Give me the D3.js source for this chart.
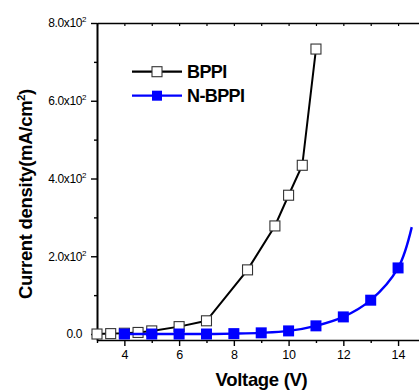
<!DOCTYPE html>
<html>
<head>
<meta charset="utf-8">
<script src="https://cdn.jsdelivr.net/npm/d3@7"></script>
<style>
  body { margin: 0; background: #fff; }
  svg { display: block; font-family: "Liberation Sans", Arial, sans-serif; }
</style>
</head>
<body>
<div class="chart"></div>
<script>
// data
const bppiVoltage = [3, 3.5, 4, 4.5, 5, 6, 7, 8.5, 9.5, 10, 10.5, 11]
const bppiCurrent = [0, 1, 2, 4, 8, 19, 34, 165, 278, 357, 434, 733]
const nbppiVoltage = [4, 5, 6, 7, 8, 9, 10, 11, 12, 13, 14]
const nbppiCurrent = [0, 0, 0, 0, 1, 3, 8, 21, 44, 87, 170]
// the blue curve keeps going past the last marker
const nbppiTailVoltage = [14.5]
const nbppiTailCurrent = [275]

const xTickMajor = [4, 6, 8, 10, 12, 14]
const xTickMinor = [3, 5, 7, 9, 11, 13, 15]
const yTickMajor = [0, 200, 400, 600, 800]
const yTickMinor = [100, 300, 500, 700]
const yTickLabels = ["0.0", "2.0x10", "4.0x10", "6.0x10", "8.0x10"]

const width = 419
const height = 391
const margin = { top: 23, left: 97, bottom: 51 }

const x = d3.scaleLinear()
    .domain([3, 15])
    .range([margin.left, margin.left + 12 * 27.37])

const y = d3.scaleLinear()
    .domain([-15.4, 800])
    .range([height - margin.bottom, margin.top])

const svg = d3.select(".chart")
    .append("svg")
    .attr("width", width)
    .attr("height", height)

const bppi = bppiVoltage.map((v, i) => ({ v, c: bppiCurrent[i] }))
const nbppi = nbppiVoltage.map((v, i) => ({ v, c: nbppiCurrent[i] }))
const nbppiLine = nbppi.concat(nbppiTailVoltage.map((v, i) => ({ v, c: nbppiTailCurrent[i] })))

// bottom axis
const xAxis = svg.append("g")
    .attr("transform", `translate(0, ${y.range()[0]})`)
    .call(d3.axisBottom(x).tickValues(xTickMajor).tickSize(6).tickPadding(4).tickSizeOuter(0))
xAxis.select(".domain").attr("stroke-width", 1.6)
xAxis.selectAll(".tick line").attr("stroke-width", 1.4)
xAxis.selectAll(".tick text").attr("font-size", 12.5).attr("fill", "#000")

svg.append("g")
    .attr("transform", `translate(0, ${y.range()[0]})`)
    .call(d3.axisBottom(x).tickValues(xTickMinor).tickSize(3).tickFormat(""))
    .call(g => g.select(".domain").remove())
    .selectAll(".tick line").attr("stroke-width", 1.4)

// top axis, ticks pointing in
svg.append("g")
    .attr("transform", `translate(0, ${margin.top})`)
    .call(d3.axisTop(x).tickValues(d3.range(3, 16)).tickSize(-3).tickFormat("").tickSizeOuter(0))
    .call(g => g.select(".domain").attr("stroke-width", 1.6))
    .selectAll(".tick line").attr("stroke-width", 1.2)

// left axis
const yAxis = svg.append("g")
    .attr("transform", `translate(${margin.left}, 0)`)
    .call(d3.axisLeft(y).tickValues(yTickMajor).tickSize(6).tickPadding(5).tickSizeOuter(0).tickFormat(""))
yAxis.select(".domain").attr("stroke-width", 2)
yAxis.selectAll(".tick line").attr("stroke-width", 1.4)
yAxis.selectAll(".tick text")
    .attr("font-size", 12)
    .attr("fill", "#000")
    .attr("letter-spacing", "-0.4")
    .each(function (d, i) {
        const t = d3.select(this)
        t.text(null)
        if (i === 0) {
            t.attr("dx", -4)
            t.append("tspan").text(yTickLabels[i])
        } else {
            t.append("tspan").text(yTickLabels[i])
            t.append("tspan").text("2").attr("font-size", 8).attr("dy", -5)
        }
    })

svg.append("g")
    .attr("transform", `translate(${margin.left}, 0)`)
    .call(d3.axisLeft(y).tickValues(yTickMinor).tickSize(3).tickFormat(""))
    .call(g => g.select(".domain").remove())
    .selectAll(".tick line").attr("stroke-width", 1.4)

// lines
const lineStraight = d3.line().x(d => x(d.v)).y(d => y(d.c))
const lineSmooth = d3.line().x(d => x(d.v)).y(d => y(d.c)).curve(d3.curveCatmullRom)

svg.append("path")
    .datum(bppi)
    .attr("d", lineStraight)
    .attr("fill", "none")
    .attr("stroke", "#000")
    .attr("stroke-width", 2)

svg.selectAll("rect.bppi")
    .data(bppi)
    .join("rect")
    .attr("class", "bppi")
    .attr("x", d => x(d.v) - 5)
    .attr("y", d => y(d.c) - 5)
    .attr("width", 10)
    .attr("height", 10)
    .attr("fill", "#fff")
    .attr("stroke", "#333")
    .attr("stroke-width", 1.1)

svg.append("path")
    .datum(nbppiLine)
    .attr("d", lineSmooth)
    .attr("fill", "none")
    .attr("stroke", "#0000ff")
    .attr("stroke-width", 2.4)

svg.selectAll("rect.nbppi")
    .data(nbppi)
    .join("rect")
    .attr("class", "nbppi")
    .attr("x", d => x(d.v) - 5.5)
    .attr("y", d => y(d.c) - 5.5)
    .attr("width", 11)
    .attr("height", 11)
    .attr("fill", "#0000ff")

// legend
const legend = [
    { name: "BPPI", color: "#000", fill: "#fff", stroke: "#333" },
    { name: "N-BPPI", color: "#0000ff", fill: "#0000ff", stroke: "none" }
]
const lg = svg.selectAll("g.legend")
    .data(legend)
    .join("g")
    .attr("class", "legend")
    .attr("transform", (d, i) => `translate(132, ${71.7 + i * 24})`)
lg.append("line")
    .attr("x1", 0).attr("x2", 50)
    .attr("stroke", d => d.color)
    .attr("stroke-width", 2.2)
lg.append("rect")
    .attr("x", 20).attr("y", -5)
    .attr("width", 10).attr("height", 10)
    .attr("fill", d => d.fill)
    .attr("stroke", d => d.stroke)
    .attr("stroke-width", 1.1)
lg.append("text")
    .attr("x", 55)
    .attr("y", 6.5)
    .attr("font-size", 18)
    .attr("font-weight", "bold")
    .attr("letter-spacing", "-0.6")
    .text(d => d.name)

// axis titles
svg.append("text")
    .attr("x", 261.5)
    .attr("y", 386)
    .attr("text-anchor", "middle")
    .attr("font-size", 18.5)
    .attr("font-weight", "bold")
    .attr("letter-spacing", "-0.3")
    .text("Voltage (V)")

const yTitle = svg.append("text")
    .attr("transform", "translate(32, 194) rotate(-90)")
    .attr("text-anchor", "middle")
    .attr("font-size", 18.5)
    .attr("font-weight", "bold")
    .attr("letter-spacing", "-0.3")
yTitle.append("tspan").text("Current density(mA/cm")
yTitle.append("tspan").text("2").attr("font-size", 11).attr("dy", -7)
yTitle.append("tspan").text(")").attr("dy", 7)
</script>
</body>
</html>
